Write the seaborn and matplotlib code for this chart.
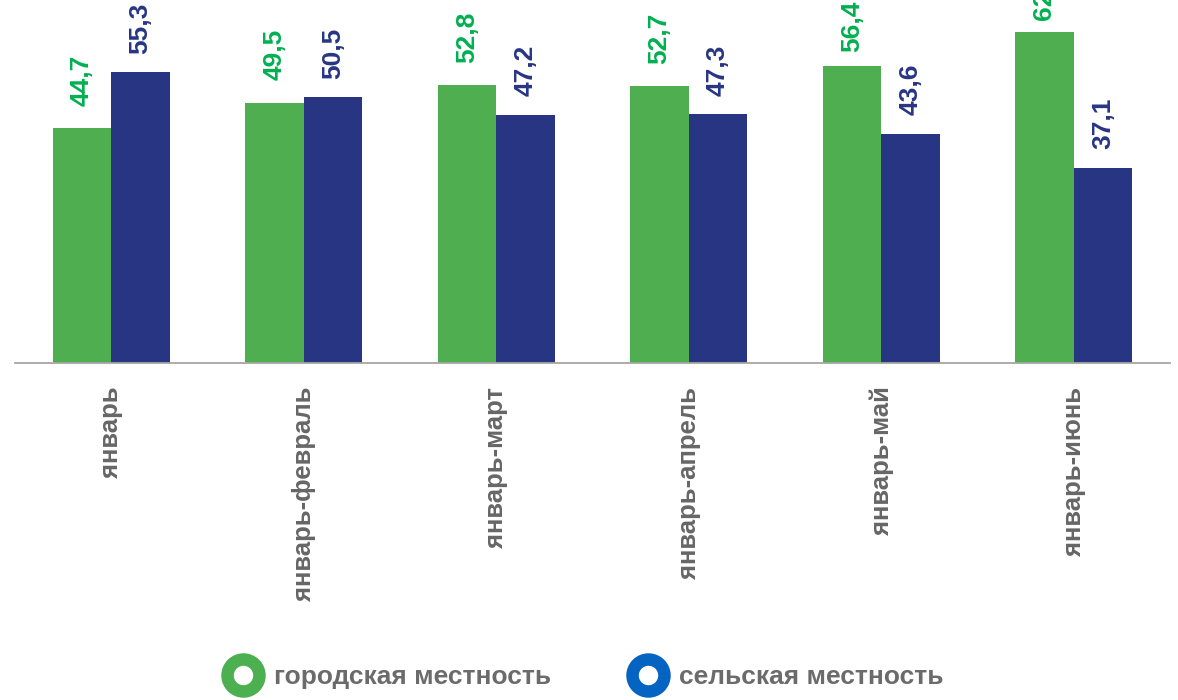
import numpy as np
import pandas as pd
import matplotlib
matplotlib.use("Agg")
import matplotlib.pyplot as plt
import seaborn as sns
from matplotlib.lines import Line2D

periods = ["январь", "январь-февраль", "январь-март", "январь-апрель", "январь-май", "январь-июнь"]
urban = [44.7, 49.5, 52.8, 52.7, 56.4, 62.9]
rural = [55.3, 50.5, 47.2, 47.3, 43.6, 37.1]
series_names = ["городская местность", "сельская местность"]

bar_colors = ["#4fae4f", "#283583"]
label_colors = ["#00b050", "#283583"]
ring_colors = ["#4caf50", "#0563c1"]

df = pd.DataFrame({
    "period": periods * 2,
    "value": urban + rural,
    "area": [series_names[0]] * len(periods) + [series_names[1]] * len(periods),
})

sns.set_style("white")
plt.rcParams["font.family"] = ["Liberation Sans", "DejaVu Sans"]

fig = plt.figure(figsize=(11.78, 7), dpi=100)
ax = fig.add_axes([15 / 1178, 1 - 363 / 700, 1155 / 1178, 363 / 700])

sns.barplot(data=df, x="period", y="value", hue="area", palette=bar_colors,
            width=0.61, gap=0, dodge=True, legend=False, ax=ax, saturation=1,
            linewidth=0, edgecolor="none")

ymax = 69
ax.set_xlim(-0.5, len(periods) - 0.5)
ax.set_ylim(0, ymax)
ax.set_xlabel("")
ax.set_ylabel("")
ax.set_yticks([])

# value labels above bars, pulled down a little when they would run off the top
offsets = [4.2, 3.5]
label_len = 9.8  # approx label length in data units
for i, vals in enumerate([urban, rural]):
    for j, v in enumerate(vals):
        x = j + (i - 0.5) * 0.305
        off = max(min(offsets[i], ymax - label_len - v), 2.3)
        ax.text(x, v + off, f"{v:.1f}".replace(".", ","), rotation=90,
                ha="center", va="bottom", fontsize=19, fontweight="bold",
                color=label_colors[i], clip_on=False)

# category axis
for s in ["top", "right", "left"]:
    ax.spines[s].set_visible(False)
ax.spines["bottom"].set_color("#a6a6a6")
ax.spines["bottom"].set_linewidth(1.3)
ax.set_xticks(range(len(periods)))
ax.set_xticklabels(periods, rotation=90, fontsize=18.5, fontweight="bold",
                   color="#666666", va="top", ha="center")
ax.tick_params(axis="x", which="major", length=0, pad=17)
ax.set_xticks(np.arange(-0.5, len(periods)), minor=True)
ax.tick_params(axis="x", which="minor", length=8, width=1.3, color="#a6a6a6", direction="out")

handles = [Line2D([], [], marker="o", linestyle="", markersize=23, markerfacecolor="white",
                  markeredgecolor=c, markeredgewidth=9) for c in ring_colors]
fig.legend(handles, series_names, loc="center", bbox_to_anchor=(580 / 1178, 1 - 677 / 700),
           ncol=2, frameon=False, handlelength=2.0, handletextpad=0.2, columnspacing=2.65,
           prop={"weight": "bold", "size": 19}, labelcolor="#6b6b6b")

fig.savefig("out.png", dpi=100)
